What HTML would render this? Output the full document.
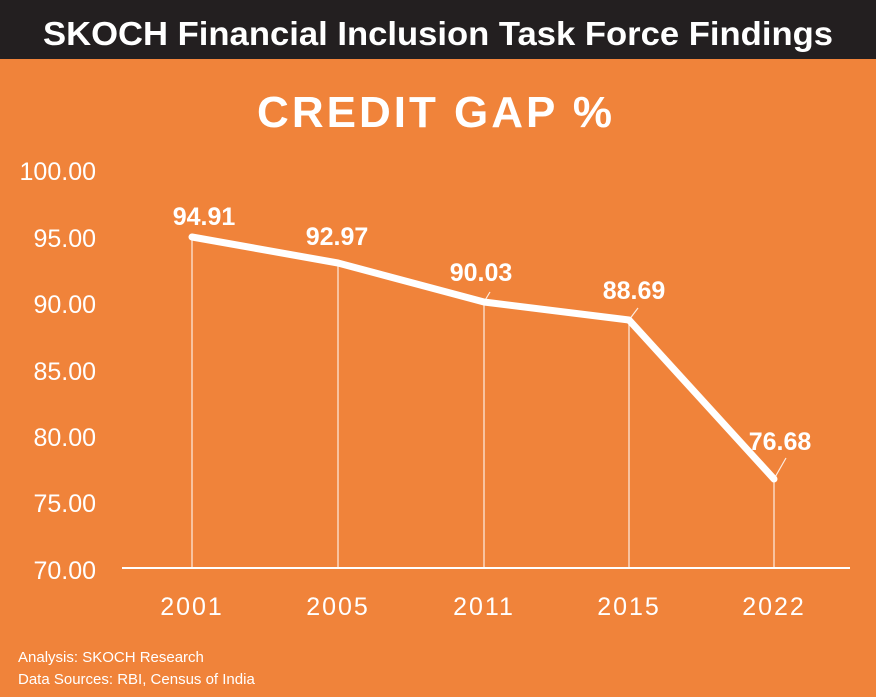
<!DOCTYPE html>
<html><head><style>
body{margin:0;width:876px;height:697px;overflow:hidden;background:#F0833A;}
</style></head><body>
<svg width="876" height="697" xmlns="http://www.w3.org/2000/svg" style="position:absolute;left:0;top:0">
<rect x="0" y="0" width="876" height="697" fill="#F0833A"/>
<rect x="0" y="0" width="876" height="59" fill="#231F20"/>
<text x="438" y="45" text-anchor="middle" fill="#fff" font-family="Liberation Sans, sans-serif" font-weight="bold" font-size="33" textLength="790" lengthAdjust="spacingAndGlyphs">SKOCH Financial Inclusion Task Force Findings</text>
<text x="436" y="127" text-anchor="middle" fill="#fff" font-family="Liberation Sans, sans-serif" font-weight="bold" font-size="44" letter-spacing="3">CREDIT GAP %</text>
<g font-family="Liberation Sans, sans-serif" font-size="25" fill="#fff" text-anchor="end">
<text x="96" y="180">100.00</text>
<text x="96" y="247">95.00</text>
<text x="96" y="313">90.00</text>
<text x="96" y="380">85.00</text>
<text x="96" y="446">80.00</text>
<text x="96" y="512">75.00</text>
<text x="96" y="579">70.00</text>
</g>
<line x1="122" y1="568" x2="850" y2="568" stroke="#fff" stroke-width="2"/>
<g stroke="#fff" stroke-width="1.2" stroke-opacity="0.85">
<line x1="192" y1="237" x2="192" y2="568"/>
<line x1="338" y1="263" x2="338" y2="568"/>
<line x1="484" y1="302" x2="484" y2="568"/>
<line x1="629" y1="320" x2="629" y2="568"/>
<line x1="774" y1="479" x2="774" y2="568"/>
<line x1="484" y1="302" x2="490" y2="292"/>
<line x1="629" y1="320" x2="638" y2="308"/>
<line x1="774" y1="479" x2="786" y2="458"/>
</g>
<polyline points="192,237 338,263 484,302 629,320 774,479" fill="none" stroke="#fff" stroke-width="7" stroke-linejoin="round" stroke-linecap="round"/>
<g font-family="Liberation Sans, sans-serif" font-weight="bold" font-size="25" fill="#fff" text-anchor="middle">
<text x="204" y="225">94.91</text>
<text x="337" y="245">92.97</text>
<text x="481" y="281">90.03</text>
<text x="634" y="299">88.69</text>
<text x="780" y="450">76.68</text>
</g>
<g font-family="Liberation Sans, sans-serif" font-size="25" fill="#fff" text-anchor="middle" letter-spacing="2">
<text x="192" y="615">2001</text>
<text x="338" y="615">2005</text>
<text x="484" y="615">2011</text>
<text x="629" y="615">2015</text>
<text x="774" y="615">2022</text>
</g>
<g font-family="Liberation Sans, sans-serif" font-size="15" fill="#fff">
<text x="18" y="662">Analysis: SKOCH Research</text>
<text x="18" y="684">Data Sources: RBI, Census of India</text>
</g>
</svg>
</body></html>
